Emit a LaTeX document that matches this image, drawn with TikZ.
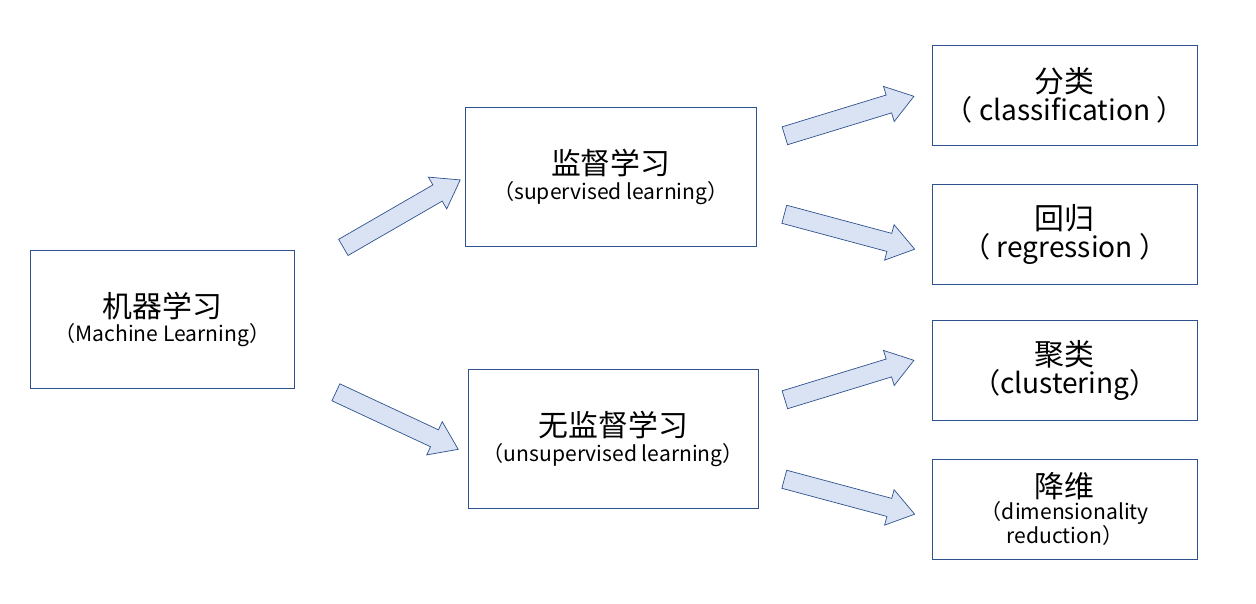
\documentclass[tikz,border=0pt]{standalone}
\usepackage{fontspec}
\setmainfont{Noto Sans CJK SC}
\usetikzlibrary{shapes.arrows}
\definecolor{boxline}{HTML}{2F528F}
\definecolor{arrowfill}{HTML}{DAE3F3}
\tikzset{
  box/.style = {draw=boxline, thin, minimum width=5.3cm, minimum height=2cm,
    align=center, anchor=north west},
  fat/.style = {single arrow, draw=boxline, fill=arrowfill, thin,
    minimum height=2.7cm, minimum width=0.72cm, inner sep=0.18cm,
    single arrow head extend=0.18cm, single arrow tip angle=70}
}
\newcommand{\zh}[1]{{\fontsize{17}{20}\selectfont #1}}
\newcommand{\en}[1]{{\fontsize{12}{15}\selectfont #1}}
\newcommand{\bigen}[1]{{\fontsize{16}{20}\selectfont #1}}
\begin{document}
\begin{tikzpicture}[x=0.02cm, y=-0.02cm]
\useasboundingbox (0,0) rectangle (1256,604);
% boxes
\node (ml) [box, minimum width=5.28cm, minimum height=2.76cm] at (30,250)
  {\zh{机器学习}\\[2pt]\en{（Machine Learning）}};
\node (sup) [box, minimum width=5.82cm, minimum height=2.78cm] at (465,107)
  {\zh{监督学习}\\[2pt]\en{（supervised learning）}};
\node (unsup) [box, minimum width=5.8cm, minimum height=2.78cm] at (468,369)
  {\zh{无监督学习}\\[2pt]\en{（unsupervised learning）}};
\node (cls) [box] at (932,45) {\zh{分类}\\\bigen{（ classification ）}};
\node (reg) [box] at (932,184) {\zh{回归}\\\bigen{（ regression ）}};
\node (clu) [box] at (932,320) {\zh{聚类}\\\bigen{（clustering）}};
\node (dim) [box] at (932,459) {\zh{降维}\\\en{（dimensionality}\\\en{reduction）}};
% block arrows
\node (a1) [fat, rotate=30] at (396,217) {};
\node (a2) [fat, rotate=-25] at (391,418) {};
\node (a3) [fat, rotate=17] at (843,118) {};
\node (a4) [fat, rotate=-15] at (843,230) {};
\node (a5) [fat, rotate=17] at (843,382) {};
\node (a6) [fat, rotate=-15] at (843,495) {};
\end{tikzpicture}
\end{document}
